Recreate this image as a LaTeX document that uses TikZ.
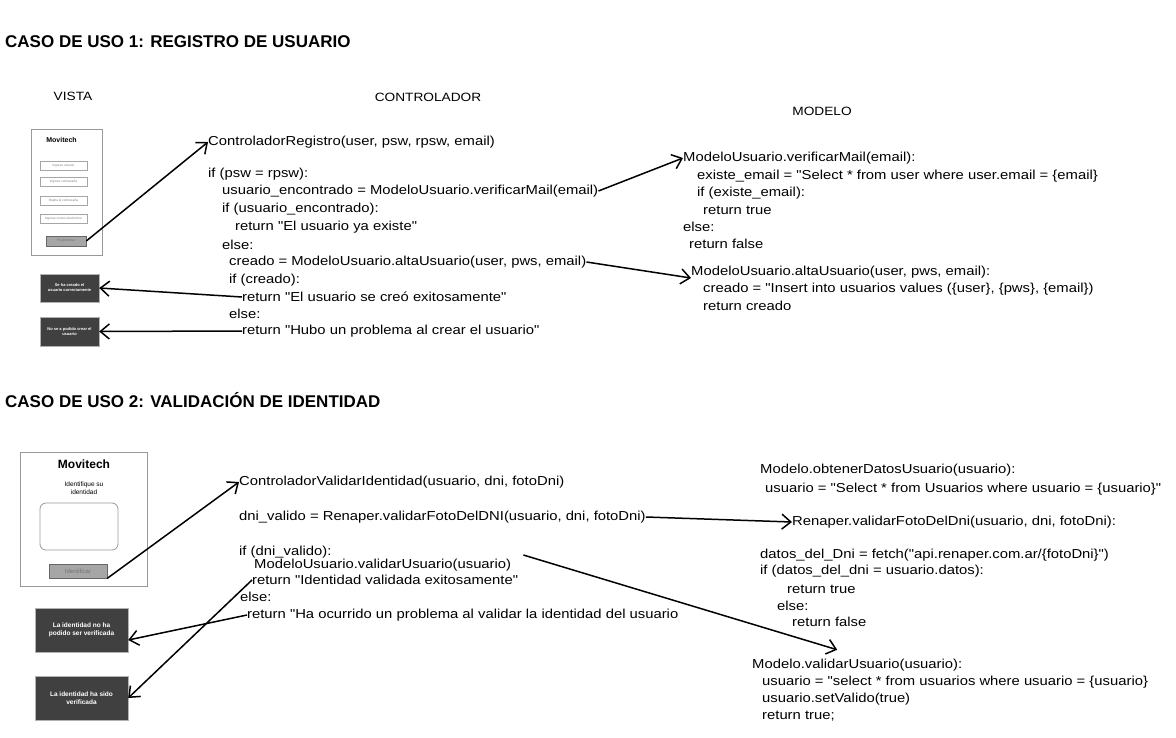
\documentclass[tikz,border=0pt]{standalone}
\usepackage{fontspec}
\setmainfont{Liberation Sans}
\newfontfamily\handfont[FakeStretch=1.14]{Liberation Sans}
\usetikzlibrary{arrows.meta}

\begin{document}
\begin{tikzpicture}[x=1pt,y=-1pt]

\tikzset{title/.style = {anchor=west, inner sep=0pt, font=\bfseries\fontsize{17}{19}\selectfont}}
\tikzset{layer/.style = {inner sep=0pt, font=\handfont\fontsize{12}{14}\selectfont}}
\tikzset{code/.style = {anchor=west, inner sep=0pt, font=\handfont\fontsize{13}{15}\selectfont}}
\tikzset{screen/.style = {draw=black!40, line width=0.8pt, inner sep=0pt}}
\tikzset{field/.style = {draw=black!35, line width=0.6pt, inner sep=0pt, text=black!50, font=\fontsize{3.2}{4}\selectfont}}
\tikzset{button/.style = {draw=black!60, fill=black!35, line width=0.6pt, inner sep=0pt, text=black!55}}
\tikzset{msg/.style = {draw=black!30, fill=black!75, text=white, inner sep=0pt, align=center}}
\tikzset{edge/.style = {-{Straight Barb[length=9pt,width=15pt]}, line width=1.5pt}}

\useasboundingbox (0,0) rectangle (1176,737);

%titles
\node[title] (t1) at (5,42) {CASO DE USO 1: REGISTRO DE USUARIO};
\node[title] (t2) at (5,400) {CASO DE USO 2: VALIDACIÓN DE IDENTIDAD};
\node[layer] (vista) at (73,96) {VISTA};
\node[layer] (ctrl) at (428,97) {CONTROLADOR};
\node[layer] (modelo) at (822,111) {MODELO};

%vista 1
\node[screen, minimum width=71pt, minimum height=126pt] (scr1) at (66.5,192) {};
\node[inner sep=0pt, font=\bfseries\fontsize{7}{8}\selectfont] (logo1) at (61.5,140) {Movitech};
\node[field, minimum width=47pt, minimum height=9pt] (f1) at (63.5,165.5) {Ingrese usuario};
\node[field, minimum width=47pt, minimum height=9pt] (f2) at (63.5,181.5) {Ingrese contraseña};
\node[field, minimum width=47pt, minimum height=9pt] (f3) at (63.5,200.5) {Repita la contraseña};
\node[field, minimum width=47pt, minimum height=9pt] (f4) at (63.5,219) {Ingrese correo electrónico};
\node[button, minimum width=40pt, minimum height=10pt, font=\fontsize{3.5}{4}\selectfont] (btnreg) at (66,241) {Registrarse};
\node[msg, minimum width=59pt, minimum height=28pt, font=\bfseries\fontsize{4}{5}\selectfont] (msgok) at (69.5,288) {Se ha creado el\\usuario correctamente};
\node[msg, minimum width=59pt, minimum height=29pt, font=\bfseries\fontsize{4}{5}\selectfont] (msgerr) at (69.5,331.5) {No se a podido crear el\\usuario};

%controlador 1
\node[code] (c1l1) at (208,142) {ControladorRegistro(user, psw, rpsw, email)};
\node[code] (c1l2) at (208,174) {if (psw = rpsw):};
\node[code] (c1l3) at (222,191) {usuario\_encontrado = ModeloUsuario.verificarMail(email)};
\node[code] (c1l4) at (222,209) {if (usuario\_encontrado):};
\node[code] (c1l5) at (235,227) {return "El usuario ya existe"};
\node[code] (c1l6) at (222,245) {else:};
\node[code] (c1l7) at (229,262) {creado = ModeloUsuario.altaUsuario(user, pws, email)};
\node[code] (c1l8) at (229,280) {if (creado):};
\node[code] (c1l9) at (242,297) {return "El usuario se creó exitosamente"};
\node[code] (c1l10) at (229,314) {else:};
\node[code] (c1l11) at (242,331) {return "Hubo un problema al crear el usuario"};

%modelo 1
\node[code] (m1l1) at (683,158) {ModeloUsuario.verificarMail(email):};
\node[code] (m1l2) at (697,176) {existe\_email = "Select * from user where user.email = \{email\}};
\node[code] (m1l3) at (697,193) {if (existe\_email):};
\node[code] (m1l4) at (703,210) {return true};
\node[code] (m1l5) at (683,227) {else:};
\node[code] (m1l6) at (689,244) {return false};
\node[code] (m1l7) at (691,272) {ModeloUsuario.altaUsuario(user, pws, email):};
\node[code] (m1l8) at (703,289) {creado = "Insert into usuarios values (\{user\}, \{pws\}, \{email\})};
\node[code] (m1l9) at (703,306) {return creado};

%vista 2
\node[screen, minimum width=127pt, minimum height=134pt] (scr2) at (83.5,519) {};
\node[inner sep=0pt, font=\bfseries\fontsize{12}{14}\selectfont] (logo2) at (84,464) {Movitech};
\node[inner sep=0pt, align=center, font=\fontsize{6.5}{7.5}\selectfont] (ask) at (84,488) {Identifique su\\identidad};
\node[screen, rounded corners=6pt, minimum width=78pt, minimum height=47pt] (foto) at (79,526.5) {};
\node[button, minimum width=58pt, minimum height=14pt, font=\fontsize{6}{7}\selectfont] (btnid) at (78,571) {Identificar};
\node[msg, minimum width=93pt, minimum height=44pt, font=\bfseries\fontsize{6.5}{8.5}\selectfont] (idfail) at (81.5,630) {La identidad no ha\\podido ser verificada};
\node[msg, minimum width=93pt, minimum height=44pt, font=\bfseries\fontsize{6.5}{8.5}\selectfont] (idok) at (81.5,698) {La identidad ha sido\\verificada};

%controlador 2
\node[code] (c2l1) at (239,482) {ControladorValidarIdentidad(usuario, dni, fotoDni)};
\node[code] (c2l2) at (239,517) {dni\_valido = Renaper.validarFotoDelDNI(usuario, dni, fotoDni)};
\node[code] (c2l3) at (239,552) {if (dni\_valido):};
\node[code] (c2l4) at (254,565) {ModeloUsuario.validarUsuario(usuario)};
\node[code] (c2l5) at (252,580) {return "Identidad validada exitosamente"};
\node[code] (c2l6) at (240,597) {else:};
\node[code] (c2l7) at (247,615) {return "Ha ocurrido un problema al validar la identidad del usuario};

%modelo 2
\node[code] (m2l1) at (760,470) {Modelo.obtenerDatosUsuario(usuario):};
\node[code] (m2l2) at (765,489) {usuario = "Select * from Usuarios where usuario = \{usuario\}"};
\node[code] (m2l3) at (792,522) {Renaper.validarFotoDelDni(usuario, dni, fotoDni):};
\node[code] (m2l4) at (760,555) {datos\_del\_Dni = fetch("api.renaper.com.ar/\{fotoDni\}")};
\node[code] (m2l5) at (760,571) {if (datos\_del\_dni = usuario.datos):};
\node[code] (m2l6) at (787,589) {return true};
\node[code] (m2l7) at (777,606) {else:};
\node[code] (m2l8) at (792,622) {return false};
\node[code] (m2l9) at (752,665) {Modelo.validarUsuario(usuario):};
\node[code] (m2l10) at (762,682) {usuario = "select * from usuarios where usuario = \{usuario\}};
\node[code] (m2l11) at (762,699) {usuario.setValido(true)};
\node[code] (m2l12) at (762,716) {return true;};

%edges
\draw[edge] (btnreg.east) -- (c1l1.west);
\draw[edge] (c1l3.east) -- (m1l1.west);
\draw[edge] (c1l7.east) -- ([yshift=-6pt]m1l7.west);
\draw[edge] (c1l9.west) -- (msgok.east);
\draw[edge] (c1l11.west) -- (msgerr.east);
\draw[edge] (btnid.south east) -- (c2l1.west);
\draw[edge] (c2l2.east) -- (m2l3.west);
\draw[edge] ([xshift=12pt,yshift=10pt]c2l4.east) -- ([xshift=-20pt,yshift=9pt]m2l9.north);
\draw[edge] (c2l5.west) -- (idok.east);
\draw[edge] (c2l7.west) -- ([yshift=-10pt]idfail.east);

\end{tikzpicture}
\end{document}
